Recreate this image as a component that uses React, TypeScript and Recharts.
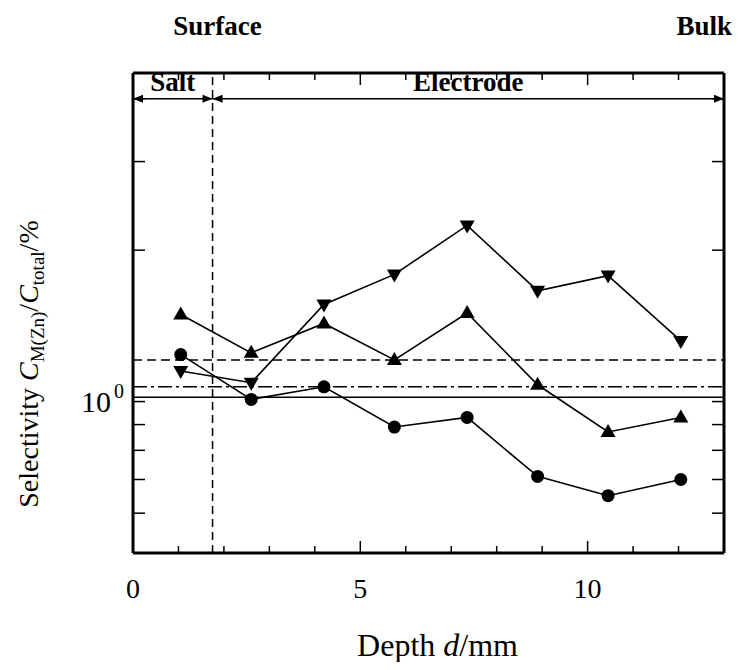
import { LineChart, Line, XAxis, YAxis, ReferenceLine } from "recharts";

// depth positions of the eight sampled slices (mm)
const depth = [1.05, 2.6, 4.2, 5.75, 7.35, 8.9, 10.45, 12.05];
const upTriangle = [1.49, 1.25, 1.43, 1.21, 1.5, 1.08, 0.87, 0.93];
const circle = [1.24, 1.01, 1.07, 0.89, 0.93, 0.71, 0.65, 0.7];
const downTriangle = [1.15, 1.09, 1.56, 1.79, 2.24, 1.66, 1.78, 1.32];

const xTicks = [0, 1, 2, 3, 4, 5, 6, 7, 8, 9, 10, 11, 12, 13];
const xLabels = [0, 5, 10];
const yTicks = [0.5, 0.6, 0.7, 0.8, 0.9, 1, 2, 3, 4];

const solidLevel = 1.02;
const dashDotLevel = 1.07;
const dashedLevel = 1.21;
const saltBoundary = 1.75;
const arrowLevel = 4;

const rows = depth.map((d, i) => ({
  depth: d,
  up: upTriangle[i],
  circle: circle[i],
  down: downTriangle[i],
}));

const FONT = "'Liberation Serif', 'Times New Roman', serif";

const UpMarker = (p: any) => (
  <path
    key={`u${p.index}`}
    d={`M${p.cx},${p.cy - 8} L${p.cx + 7.5},${p.cy + 5} L${p.cx - 7.5},${p.cy + 5} Z`}
    fill="#000"
  />
);
const DownMarker = (p: any) => (
  <path
    key={`d${p.index}`}
    d={`M${p.cx},${p.cy + 8} L${p.cx + 7.5},${p.cy - 5} L${p.cx - 7.5},${p.cy - 5} Z`}
    fill="#000"
  />
);
const CircleMarker = (p: any) => (
  <circle key={`c${p.index}`} cx={p.cx} cy={p.cy} r={6.5} fill="#000" />
);

function BottomTick(props: any) {
  const { x, y, payload } = props;
  const v = payload.value;
  const major = v % 5 === 0;
  return (
    <g>
      {v > 0 && v < 13 && (
        <line x1={x} y1={y} x2={x} y2={y - (major ? 12 : 7)} stroke="#000" strokeWidth={1.5} />
      )}
      {xLabels.includes(v) && (
        <text x={x} y={y + 45} textAnchor="middle" fontSize={28} fontFamily={FONT} fill="#000">
          {v}
        </text>
      )}
    </g>
  );
}

function TopTick(props: any) {
  const { x, y, payload } = props;
  const v = payload.value;
  const major = v % 5 === 0;
  if (v <= 0 || v >= 13) return <g />;
  return <line x1={x} y1={y} x2={x} y2={y + (major ? 12 : 7)} stroke="#000" strokeWidth={1.5} />;
}

function LeftTick(props: any) {
  const { x, y, payload } = props;
  const v = payload.value;
  if (v <= 0.5) return <g />;
  return (
    <g>
      <line x1={x} y1={y} x2={x + 12} y2={y} stroke="#000" strokeWidth={1.5} />
      {v === 1 && (
        <text x={x - 22} y={y + 10} textAnchor="end" fontSize={30} fontFamily={FONT} fill="#000">
          10
        </text>
      )}
      {v === 1 && (
        <text x={x - 9} y={y - 4} textAnchor="end" fontSize={20} fontFamily={FONT} fill="#000">
          0
        </text>
      )}
    </g>
  );
}

function RightTick(props: any) {
  const { x, y, payload } = props;
  if (payload.value <= 0.5) return <g />;
  return <line x1={x} y1={y} x2={x - 12} y2={y} stroke="#000" strokeWidth={1.5} />;
}

const doubleArrow = (label: string) => (props: any) => {
  const { x1, y1, x2, y2 } = props;
  const h = 10;
  const w = 4;
  return (
    <g>
      <line x1={x1} y1={y1} x2={x2} y2={y2} stroke="#000" strokeWidth={1.5} />
      <path d={`M${x1},${y1} L${x1 + h},${y1 - w} L${x1 + h},${y1 + w} Z`} fill="#000" />
      <path d={`M${x2},${y2} L${x2 - h},${y2 - w} L${x2 - h},${y2 + w} Z`} fill="#000" />
      <text
        x={(x1 + x2) / 2}
        y={y1 - 8}
        textAnchor="middle"
        fontSize={27}
        fontWeight="bold"
        fontFamily={FONT}
        fill="#000"
      >
        {label}
      </text>
    </g>
  );
};

export default function App() {
  return (
    <div style={{ width: 733, height: 654, marginRight: -8 }}>
      <LineChart width={733} height={654} data={rows} margin={{ top: 0, right: 0, bottom: 0, left: 0 }}>
        <XAxis
          xAxisId="t"
          orientation="top"
          type="number"
          dataKey="depth"
          domain={[0, 13]}
          ticks={xTicks}
          interval={0}
          height={65}
          tickSize={0}
          tickMargin={0}
          tick={TopTick}
          axisLine={{ stroke: "#000", strokeWidth: 3 }}
          tickLine={false}
          label={{
            content: (p: any) => (
              <text
                x={p.viewBox.x + p.viewBox.width + 8}
                y={27}
                textAnchor="end"
                fontSize={27}
                fontWeight="bold"
                fontFamily={FONT}
                fill="#000"
              >
                Bulk
              </text>
            ),
          }}
        />
        <XAxis
          type="number"
          dataKey="depth"
          domain={[0, 13]}
          ticks={xTicks}
          interval={0}
          height={109}
          tickSize={0}
          tickMargin={0}
          tick={BottomTick}
          axisLine={{ stroke: "#000", strokeWidth: 3 }}
          tickLine={false}
          label={{
            content: (p: any) => (
              <text
                x={p.viewBox.x + p.viewBox.width / 2 + 9}
                y={648}
                textAnchor="middle"
                fontSize={32}
                fontFamily={FONT}
                fill="#000"
              >
                Depth <tspan fontStyle="italic">d</tspan>/mm
              </text>
            ),
          }}
        />
        <YAxis
          scale="log"
          domain={[0.5, 4.5]}
          allowDataOverflow
          ticks={yTicks}
          interval={0}
          width={125}
          tickSize={0}
          tickMargin={0}
          tick={LeftTick}
          axisLine={{ stroke: "#000", strokeWidth: 3 }}
          tickLine={false}
          label={{
            content: () => (
              <text
                transform="translate(30,356) rotate(-90)"
                textAnchor="middle"
                fontSize={28}
                fontFamily={FONT}
                fill="#000"
              >
                Selectivity <tspan fontStyle="italic">C</tspan>
                <tspan fontSize={19} dy={6}>M(Zn)</tspan>
                <tspan dy={-6}>/</tspan>
                <tspan fontStyle="italic">C</tspan>
                <tspan fontSize={19} dy={6}>total</tspan>
                <tspan dy={-6}>/%</tspan>
              </text>
            ),
          }}
        />
        <YAxis
          yAxisId="r"
          orientation="right"
          scale="log"
          domain={[0.5, 4.5]}
          allowDataOverflow
          ticks={yTicks}
          interval={0}
          width={17}
          tickSize={0}
          tickMargin={0}
          tick={RightTick}
          axisLine={{ stroke: "#000", strokeWidth: 3 }}
          tickLine={false}
        />

        <ReferenceLine y={solidLevel} stroke="#000" strokeWidth={1.5} />
        <ReferenceLine y={dashDotLevel} stroke="#000" strokeWidth={1.5} strokeDasharray="14 4 3 4" />
        <ReferenceLine y={dashedLevel} stroke="#000" strokeWidth={1.5} strokeDasharray="9 5" />
        <ReferenceLine
          x={saltBoundary}
          stroke="#000"
          strokeWidth={1.5}
          strokeDasharray="8 5"
          label={{
            content: (p: any) => (
              <text
                x={p.viewBox.x + 5}
                y={27}
                textAnchor="middle"
                fontSize={27}
                fontWeight="bold"
                fontFamily={FONT}
                fill="#000"
              >
                Surface
              </text>
            ),
          }}
        />
        <ReferenceLine
          segment={[
            { x: 0, y: arrowLevel },
            { x: saltBoundary, y: arrowLevel },
          ]}
          shape={doubleArrow("Salt")}
        />
        <ReferenceLine
          segment={[
            { x: saltBoundary, y: arrowLevel },
            { x: 13, y: arrowLevel },
          ]}
          shape={doubleArrow("Electrode")}
        />

        <Line dataKey="up" stroke="#000" strokeWidth={1.6} dot={UpMarker} isAnimationActive={false} />
        <Line dataKey="circle" stroke="#000" strokeWidth={1.6} dot={CircleMarker} isAnimationActive={false} />
        <Line dataKey="down" stroke="#000" strokeWidth={1.6} dot={DownMarker} isAnimationActive={false} />
      </LineChart>
    </div>
  );
}
